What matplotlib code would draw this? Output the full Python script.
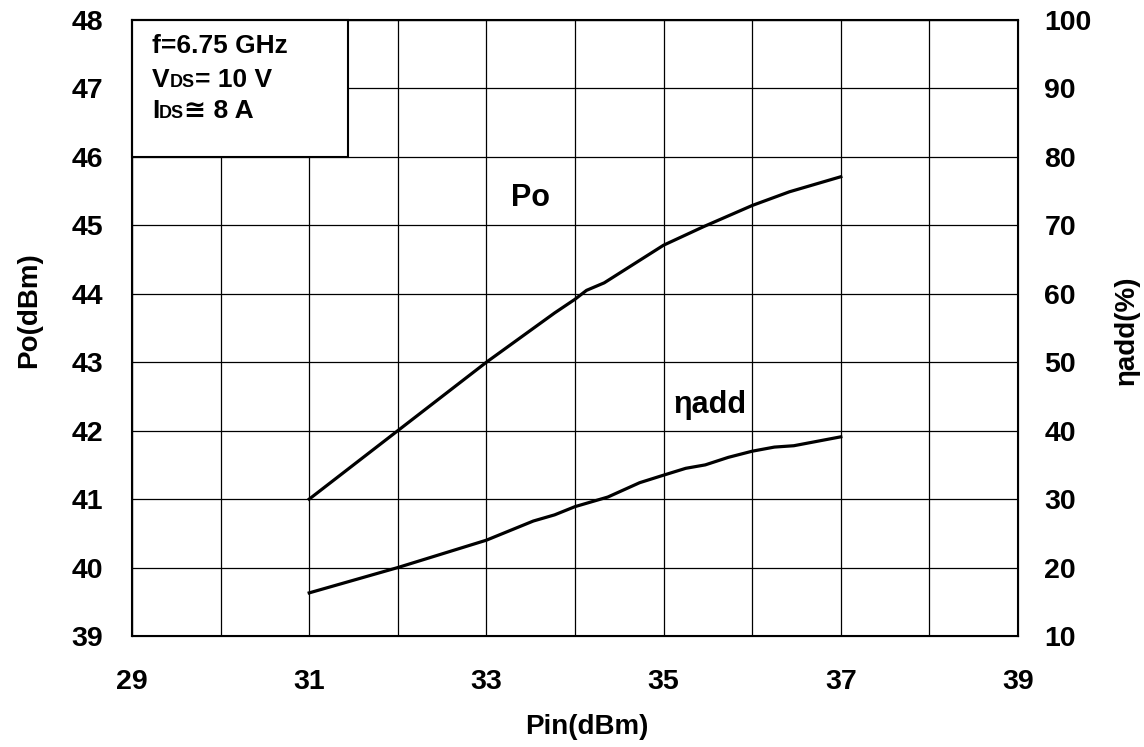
import matplotlib
matplotlib.use("Agg")
import matplotlib.pyplot as plt
from matplotlib.patches import Rectangle
from matplotlib.ticker import MultipleLocator

plt.rcParams['font.family'] = ['Liberation Sans', 'DejaVu Sans']
plt.rcParams['font.weight'] = 'bold'

# Data
pin_po = [31, 32, 33, 33.77, 34, 34.13, 34.33, 35, 35.45, 36, 36.42, 37]
po = [41.0, 42.0, 43.0, 43.72, 43.92, 44.05, 44.16, 44.71, 44.98, 45.29, 45.49, 45.71]
pin_eta = [31, 32, 33, 33.53, 33.77, 34, 34.37, 34.73, 35, 35.25, 35.47, 35.73, 36, 36.25, 36.47, 37]
eta = [16.3, 20.0, 24.0, 26.8, 27.7, 28.9, 30.3, 32.4, 33.5, 34.5, 35.0, 36.1, 37.0, 37.6, 37.8, 39.1]

x_ticks = [29, 31, 33, 35, 37, 39]
y_left_ticks = [39, 40, 41, 42, 43, 44, 45, 46, 47, 48]
y_right_ticks = [10, 20, 30, 40, 50, 60, 70, 80, 90, 100]

fig = plt.figure(figsize=(11.44, 7.47), dpi=100)
ax = fig.add_axes([132/1144, 1-636/747, (1018-132)/1144, (636-20)/747])
ax.set_xlim(29, 39)
ax.set_ylim(39, 48)
ax.xaxis.set_major_locator(MultipleLocator(2))
ax.xaxis.set_minor_locator(MultipleLocator(1))
ax.set_xticks(x_ticks)
ax.set_yticks(y_left_ticks)
ax.grid(True, which='both', color='black', linewidth=0.9)
ax.set_axisbelow(True)
ax.tick_params(which='both', length=0)
ax.tick_params(axis='x', pad=24, labelsize=20.5)
ax.tick_params(axis='y', pad=21, labelsize=20.5)
for s in ax.spines.values():
    s.set_linewidth(1.5)

ax.plot(pin_po, po, color='black', linewidth=2.3, zorder=5)

ax2 = ax.twinx()
ax2.set_ylim(10, 100)
ax2.set_yticks(y_right_ticks)
ax2.tick_params(length=0, pad=19, labelsize=20.5)
ax2.plot(pin_eta, eta, color='black', linewidth=2.3, zorder=5)

ax.set_xlabel('Pin(dBm)', fontsize=20, fontweight='bold')
ax.xaxis.set_label_coords((587-132)/886, -(714-636)/616)
ax.set_ylabel('Po(dBm)', fontsize=20, fontweight='bold')
ax.yaxis.set_label_coords(-(132-42)/886, (636-310)/616)
ax2.set_ylabel('ηadd(%)', fontsize=20, fontweight='bold', rotation=90)
ax2.yaxis.set_label_coords(1+(1114-1018)/886, (636-330)/616)

ax.text(33.5, 45.4, 'Po', fontsize=22, fontweight='bold', ha='center', va='center', zorder=6)
ax.text(35.52, 42.37, 'ηadd', fontsize=22, fontweight='bold', ha='center', va='center', zorder=6)

# Info box
box = Rectangle((29, 46), 2.44, 2.0, facecolor='white', edgecolor='black', linewidth=1.5, zorder=7, clip_on=False)
ax.add_patch(box)

fig.canvas.draw()
renderer = fig.canvas.get_renderer()

def px_text(x, y, s, size):
    # x, y in figure pixels from top-left
    return fig.text(x/1144, 1-y/747, s, fontsize=size, fontweight='bold',
                    ha='left', va='baseline', zorder=10)

big = 19
small = 13
base1, base2, base3 = 53, 87, 118
left = 152
px_text(left, base1, 'f=6.75 GHz', big)

def composite(parts, y):
    x = left
    for s, size in parts:
        t = px_text(x, y, s, size)
        fig.canvas.draw()
        bb = t.get_window_extent(renderer)
        x = x + bb.width
    return x

composite([('V', big), ('DS', small), ('= 10 V', big)], base2)
composite([('I', big), ('DS', small), ('≅ 8 A', big)], base3)

fig.savefig('out.png', dpi=100)
